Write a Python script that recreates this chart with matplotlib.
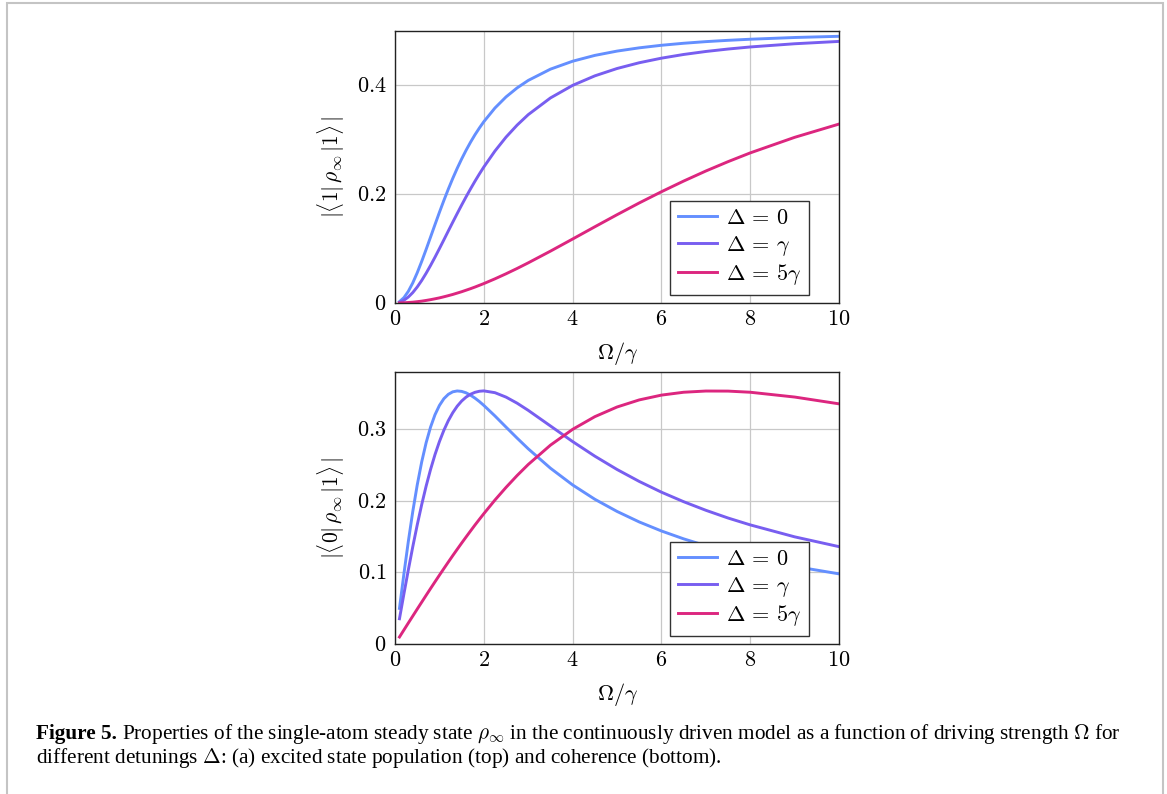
import numpy as np
import matplotlib
matplotlib.use("Agg")
import matplotlib.pyplot as plt
from matplotlib.patches import Rectangle

plt.rcParams["mathtext.fontset"] = "cm"
plt.rcParams["font.family"] = ["Liberation Serif", "DejaVu Serif"]

# driving strength Omega / gamma
omega = [0.1, 0.2, 0.3, 0.4, 0.5, 0.6, 0.7, 0.8, 0.9, 1.0, 1.1, 1.2, 1.3, 1.4, 1.5, 1.6,
         1.7, 1.8, 1.9, 2.0, 2.25, 2.5, 2.75, 3.0, 3.5, 4.0, 4.5, 5.0, 5.5, 6.0, 6.5, 7.0,
         7.5, 8.0, 9.0, 10.0]

# excited state population |<1|rho|1>|
pop_d0 = [0.0025, 0.0098, 0.0215, 0.0370, 0.0556, 0.0763, 0.0984, 0.1212, 0.1441, 0.1667,
          0.1885, 0.2093, 0.2290, 0.2475, 0.2647, 0.2807, 0.2955, 0.3092, 0.3217, 0.3333,
          0.3584, 0.3788, 0.3954, 0.4091, 0.4298, 0.4444, 0.4551, 0.4630, 0.4690, 0.4737,
          0.4774, 0.4804, 0.4828, 0.4848, 0.4880, 0.4902]
pop_d1 = [0.0012, 0.0050, 0.0110, 0.0192, 0.0294, 0.0413, 0.0546, 0.0690, 0.0842, 0.1000,
          0.1161, 0.1324, 0.1485, 0.1644, 0.1800, 0.1951, 0.2097, 0.2238, 0.2372, 0.2500,
          0.2793, 0.3049, 0.3270, 0.3462, 0.3769, 0.4000, 0.4175, 0.4310, 0.4416, 0.4500,
          0.4568, 0.4623, 0.4668, 0.4706, 0.4765, 0.4808]
pop_d5 = [0.0001, 0.0004, 0.0009, 0.0015, 0.0024, 0.0034, 0.0047, 0.0061, 0.0077, 0.0094,
          0.0114, 0.0135, 0.0157, 0.0182, 0.0207, 0.0235, 0.0263, 0.0293, 0.0325, 0.0357,
          0.0444, 0.0537, 0.0635, 0.0738, 0.0953, 0.1176, 0.1401, 0.1623, 0.1839, 0.2045,
          0.2241, 0.2426, 0.2598, 0.2759, 0.3045, 0.3289]

# coherence |<0|rho|1>|
coh_d0 = [0.0498, 0.0980, 0.1435, 0.1852, 0.2222, 0.2542, 0.2811, 0.3030, 0.3203, 0.3333,
          0.3427, 0.3488, 0.3523, 0.3535, 0.3529, 0.3509, 0.3476, 0.3435, 0.3387, 0.3333,
          0.3186, 0.3030, 0.2876, 0.2727, 0.2456, 0.2222, 0.2022, 0.1852, 0.1705, 0.1579,
          0.1469, 0.1373, 0.1288, 0.1212, 0.1084, 0.0980]
coh_d1 = [0.0353, 0.0700, 0.1037, 0.1360, 0.1664, 0.1946, 0.2205, 0.2438, 0.2646, 0.2828,
          0.2986, 0.3120, 0.3231, 0.3322, 0.3394, 0.3449, 0.3489, 0.3516, 0.3531, 0.3536,
          0.3511, 0.3449, 0.3364, 0.3264, 0.3046, 0.2828, 0.2624, 0.2438, 0.2271, 0.2121,
          0.1988, 0.1868, 0.1760, 0.1664, 0.1497, 0.1360]
coh_d5 = [0.0098, 0.0196, 0.0294, 0.0391, 0.0488, 0.0584, 0.0680, 0.0775, 0.0869, 0.0962,
          0.1054, 0.1145, 0.1235, 0.1323, 0.1410, 0.1495, 0.1579, 0.1662, 0.1742, 0.1821,
          0.2011, 0.2188, 0.2354, 0.2508, 0.2778, 0.2999, 0.3176, 0.3311, 0.3410, 0.3477,
          0.3517, 0.3534, 0.3533, 0.3517, 0.3450, 0.3355]

labels = [r"$\Delta\,=\,0$", r"$\Delta\,=\,\gamma$", r"$\Delta\,=\,5\gamma$"]
colors = ["#648FFF", "#785EF0", "#DC267F"]

x_ticks = [0, 2, 4, 6, 8, 10]
top_yticks = [0, 0.2, 0.4]
bottom_yticks = [0, 0.1, 0.2, 0.3]


def style_axes(ax, yticks, ylim, ylabel):
    ax.set_xlim(0, 10)
    ax.set_ylim(*ylim)
    ax.set_xticks(x_ticks)
    ax.set_xticklabels([f"${t}$" for t in x_ticks])
    ax.set_yticks(yticks)
    ax.set_yticklabels(["$0$" if t == 0 else f"${t:g}$" for t in yticks])
    ax.tick_params(length=0, labelsize=16, pad=6)
    ax.grid(True, color="#c8c8c8", lw=0.9)
    ax.set_axisbelow(True)
    for sp in ax.spines.values():
        sp.set_linewidth(1.0)
        sp.set_color("#222222")
    ax.set_xlabel(r"$\Omega/\gamma$", fontsize=16)
    ax.xaxis.set_label_coords(0.5, -0.135)
    ax.set_ylabel(ylabel, fontsize=15.5)
    ax.yaxis.set_label_coords(-0.108, 0.5)
    leg = ax.legend(loc="lower right", bbox_to_anchor=(0.932, 0.03), borderaxespad=0,
                    fontsize=16, fancybox=False, framealpha=1, edgecolor="#333333",
                    handlelength=1.75, handletextpad=0.4, borderpad=0.35, labelspacing=0.2)
    leg.get_frame().set_linewidth(1.0)


fig = plt.figure(figsize=(11.67, 7.94), dpi=100)
ax1 = fig.add_axes([0.3385, 0.6184, 0.3805, 0.3426])
ax2 = fig.add_axes([0.3385, 0.1889, 0.3805, 0.3426])

for ys, c, lab in zip([pop_d0, pop_d1, pop_d5], colors, labels):
    ax1.plot(omega, ys, color=c, lw=2.1, label=lab)
style_axes(ax1, top_yticks, (0, 0.5), r"$|\langle 1|\,\rho_\infty\,|1\rangle\,|$")

for ys, c, lab in zip([coh_d0, coh_d1, coh_d5], colors, labels):
    ax2.plot(omega, ys, color=c, lw=2.1, label=lab)
style_axes(ax2, bottom_yticks, (0, 0.38), r"$|\langle 0|\,\rho_\infty\,|1\rangle\,|$")

# page frame
fig.patches.append(Rectangle((7 / 1167, -0.1), 1156 / 1167, 1.1 - 3 / 794,
                             transform=fig.transFigure, fill=False,
                             edgecolor="#c4c4c4", lw=1.5))

# caption
cap_x = 36 / 1167
cap_size = 15.35
t1 = fig.text(cap_x, 1 - 734 / 794, "Figure 5.", fontsize=cap_size, fontweight="bold", va="center")
fig.canvas.draw()
bb = t1.get_window_extent()
fig.text(bb.x1 / fig.bbox.width + 0.004, 1 - 734 / 794,
         r"Properties of the single-atom steady state $\rho_\infty$ in the continuously driven model "
         r"as a function of driving strength $\Omega$ for",
         fontsize=cap_size, va="center")
fig.text(cap_x, 1 - 758 / 794,
         r"different detunings $\Delta$: (a) excited state population (top) and coherence (bottom).",
         fontsize=cap_size, va="center")

fig.savefig("out.png", dpi=100)
